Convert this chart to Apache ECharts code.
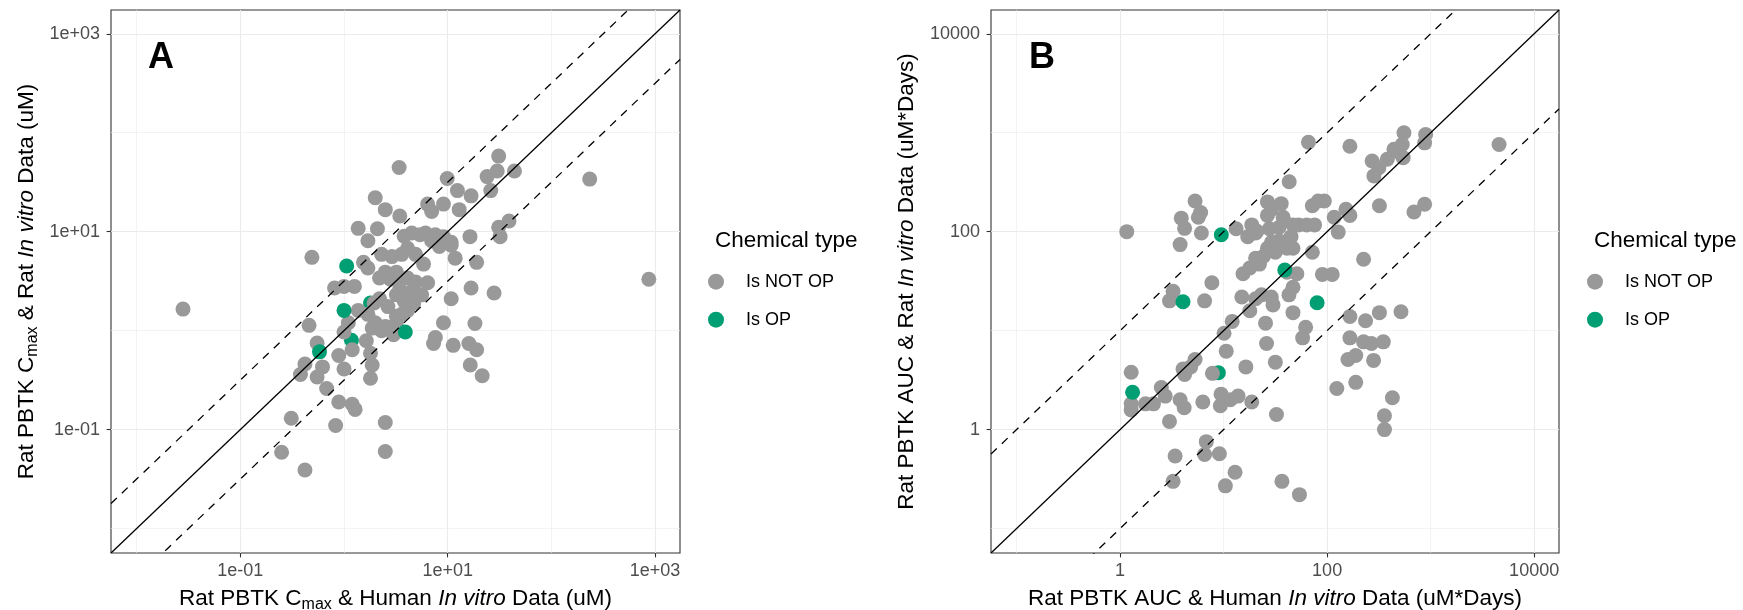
<!DOCTYPE html>
<html>
<head>
<meta charset="utf-8">
<script src="https://cdn.jsdelivr.net/npm/echarts@6/dist/echarts.min.js"></script>
<style>
html, body { margin: 0; padding: 0; background: #fff; }
#chart { width: 1743px; height: 610px; }
</style>
</head>
<body>
<div id="chart"></div>
<script>
// values are [human in vitro, rat in vitro]
// panel A: Cmax (uM)
var cmaxNotOp = [
	[0.028,1.65],[3.4,44.5],[31,58],[24,36],[30,41],[44,41],[9.9,34.5],[12.4,26],[16.8,23],[26,26],[234,34],[870,3.3],
	[2.0,22],[2.5,16.7],[6.4,19],[9.1,19],[7.0,16],[12.9,16.7],[3.45,14.4],[1.37,10.8],[2.1,10.7],[1.7,8.1],[3.8,9.0],
	[4.5,9.7],[5.4,9.3],[7.6,9.3],[9.1,8.9],[10.8,7.8],[4.1,6.8],[4.9,5.9],[8.3,7.1],[16.4,8.9],[31,11.1],[32,8.9],
	[39,12.8],[2.3,5.9],[0.49,5.5],[1.54,4.9],[1.7,4.3],[11.8,5.4],[19,4.9],[2.5,3.9],[3.2,3.9],[2.8,3.3],[2.2,3.4],
	[3.45,3.3],[4.1,3.4],[4.9,3.1],[6.4,3.05],[0.81,2.7],[1.0,2.8],[1.26,2.8],[16.8,2.7],[28,2.4],[3.2,2.3],[4.5,2.5],
	[10.8,2.1],[2.2,2.1],[2.65,1.75],[3.8,2.0],[4.7,1.9],[4.1,1.6],[1.37,1.6],[1.7,1.46],[2.0,1.2],[2.5,1.1],[3.2,1.2],
	[3.6,1.46],[0.46,1.13],[1.1,1.2],[1.87,1.06],[2.3,1.0],[9.1,1.2],[18.3,1.18],[1.0,0.97],[3.0,0.91],[7.6,0.85],
	[7.3,0.74],[11.3,0.71],[16,0.74],[19,0.64],[0.55,0.75],[1.64,0.79],[1.2,0.64],[0.89,0.56],[1.8,0.59],[0.42,0.46],
	[0.62,0.43],[0.38,0.36],[0.55,0.34],[1.0,0.41],[1.87,0.45],[1.8,0.33],[0.68,0.26],[16.5,0.45],[21.5,0.35],
	[0.89,0.19],[1.2,0.18],[1.28,0.16],[0.31,0.13],[0.83,0.11],[2.5,0.118],[0.25,0.059],[2.5,0.06],[0.42,0.039],
	[2.9,5.6],[5.85,4.7],[3.45,2.6],[5.6,2.3],[3.6,5.9],[6.1,9.7],[7.0,8.1],[1.95,1.9],[3.2,1.4],[10.8,7.3]
];
var cmaxOp = [[1.06,4.5],[1.0,1.6],[3.9,0.97],[0.58,0.61]];
var cmaxOpCovered = [[1.8,1.9],[1.18,0.8]];   // OP dots half hidden under grey ones

// panel B: AUC (uM*Days)
var aucNotOp = [
	[1.16,100],[5.3,204],[3.9,137],[6.0,156],[5.7,140],[4.2,108],[6.1,97],[3.8,74],[66,800],[166,730],[43,320],
	[26.5,200],[36,192],[29,168],[26.5,146],[37.6,140],[82,204],[72,183],[94,204],[117,140],[152,168],[166,146],
	[320,183],[128,99],[13.2,107],[18.7,117],[20.4,97],[17.1,89],[27.7,107],[34.4,111],[44.8,89],[53,117],[63.5,117],
	[75.6,117],[29,78],[34.4,81],[26.5,68],[31.6,62],[41,68],[46.8,68],[72,62],[20.4,54],[22.2,47],[17.9,43],
	[15.4,37.6],[24.3,56.5],[225,52.6],[41,39],[51,37.6],[90,37],[112,37],[7.7,30.5],[46.8,27.4],[42.8,23],[23.2,23],
	[15,21.9],[20.4,21],[28.9,21.9],[30,18.2],[17.9,15.9],[3.25,25],[3.0,20],[6.55,20],[46.8,15.2],[12.1,12.4],
	[25.4,11.9],[10.1,9.4],[62,10.8],[58,8.45],[26,7.4],[166,13.9],[235,12.6],[320,15.2],[517,15.5],[166,8.45],
	[225,7.7],[268,7.4],[349,7.7],[31.6,4.8],[16.4,4.3],[10.6,6.2],[159,5.1],[189,5.6],[281,5.0],[5.3,5.1],[4.8,4.3],
	[4.05,4.1],[4.2,3.6],[7.8,3.7],[1.28,3.8],[189,3.0],[124,2.6],[427,2.1],[358,1.38],[358,1.0],[32.4,1.42],
	[2.5,2.66],[2.73,2.18],[2.1,1.82],[3.0,1.21],[4.16,1.66],[3.8,2.0],[6.3,1.9],[1.28,1.82],[1.28,1.58],[1.76,1.82],
	[9.45,2.28],[9.3,1.74],[11.6,2.0],[13.8,2.18],[18.7,1.9],[6.8,0.755],[6.55,0.56],[3.4,0.54],[9.1,0.57],[3.25,0.3],
	[12.9,0.37],[10.4,0.27],[36.6,0.3],[54,0.22],[47,117],[21,101],
	[552,1000],[895,960],[875,790],[532,760],[494,630],[442,680],[381,540],[543,560],[272,518],[316,443],[283,366],
	[4580,760],[690,158],[875,189]
];
var aucOp = [[9.5,93],[39,41],[4.05,19.6],[80,19.1],[1.32,2.38]];
var aucOpCovered = [[8.9,3.75]];

// axis limits and breaks
var limA = [0.00566, 1738];
var limB = [0.0566, 17380];
var breaksA = [0.1, 10, 1000], breakLabelsA = ['1e-01', '1e+01', '1e+03'], minorA = [0.01, 1, 100];
var breaksB = [1, 100, 10000], breakLabelsB = ['1', '100', '10000'], minorB = [0.1, 10, 1000];
var bandA = Math.sqrt(10);   // A: dashed lines half an order of magnitude off
var bandB = 10;              // B: one order of magnitude off

var FONT = '"Liberation Sans", Arial, Helvetica, sans-serif';
var GREY = '#999999', GREEN = '#009E73';

var titleRich = {
	b: { fontSize: 22.5, lineHeight: 28, fontFamily: FONT, color: '#000' },
	i: { fontSize: 22.5, lineHeight: 28, fontFamily: FONT, fontStyle: 'italic', color: '#000' },
	s: { fontSize: 16, lineHeight: 16, fontFamily: FONT, color: '#000', verticalAlign: 'bottom' }
};

function labelFor(breaks, labels) {
	return function (v) {
		for (var i = 0; i < breaks.length; i++) {
			if (Math.abs(Math.log10(v) - Math.log10(breaks[i])) < 1e-6)
				return labels[i];
		}
		return '';
	};
}

function mainAxis(grid, lim, breaks, labels, name, isY) {
	return {
		type: 'log', logBase: 10, gridIndex: grid, min: lim[0], max: lim[1],
		name: name, nameLocation: 'middle', nameGap: isY ? 70 : 32,
		nameTextStyle: { rich: titleRich },
		axisLine: { show: false },
		axisTick: { show: true, customValues: breaks, length: 4.4, lineStyle: { color: '#333', width: 1.1 } },
		axisLabel: { customValues: breaks, formatter: labelFor(breaks, labels), color: '#4d4d4d', fontSize: 18, fontFamily: FONT, margin: isY ? 11 : 9 },
		splitLine: { show: true, lineStyle: { color: '#ebebeb', width: 1.1 } },
		minorTick: { show: false }, minorSplitLine: { show: false }
	};
}

function minorAxis(grid, lim, minor) {
	return {
		type: 'log', logBase: 10, gridIndex: grid, min: lim[0], max: lim[1],
		axisLine: { show: false },
		axisTick: { show: false, customValues: minor },
		axisLabel: { show: false },
		splitLine: { show: true, lineStyle: { color: '#ebebeb', width: 0.6 } }
	};
}

function dots(name, data, color, ax) {
	return {
		type: 'scatter', name: name, data: data, xAxisIndex: ax, yAxisIndex: ax,
		symbol: 'circle', symbolSize: 15, itemStyle: { color: color, opacity: 1 },
		silent: true, z: 3
	};
}

function refLine(lim, k, dashed, ax) {
	return {
		type: 'line', data: [[lim[0], lim[0] * k], [lim[1], lim[1] * k]],
		xAxisIndex: ax, yAxisIndex: ax, symbol: 'none', clip: true, silent: true, z: 4,
		lineStyle: { color: '#000', width: 1.3, type: dashed ? [8, 7] : 'solid' }
	};
}

function legendAt(left) {
	return {
		data: ['Is NOT OP', 'Is OP'], orient: 'vertical', left: left, top: 272.7, padding: 0,
		itemWidth: 50, itemHeight: 16, itemGap: 20, icon: 'circle', selectedMode: false,
		textStyle: { fontSize: 18, lineHeight: 16, color: '#000', fontFamily: FONT }
	};
}

var chart = echarts.init(document.getElementById('chart'), null, { renderer: 'canvas' });

var option = {
	animation: false,
	textStyle: { fontFamily: FONT },
	grid: [
		{ left: 111, top: 10, width: 569, height: 543, show: true, borderColor: '#333', borderWidth: 1.1, backgroundColor: 'transparent', outerBoundsMode: 'none' },
		{ left: 991, top: 10, width: 568, height: 543, show: true, borderColor: '#333', borderWidth: 1.1, backgroundColor: 'transparent', outerBoundsMode: 'none' }
	],
	xAxis: [
		mainAxis(0, limA, breaksA, breakLabelsA, '{b|Rat PBTK C}{s|max}{b| & Human }{i|In vitro}{b| Data (uM)}', false),
		mainAxis(1, limB, breaksB, breakLabelsB, '{b|Rat PBTK AUC & Human }{i|In vitro}{b| Data (uM*Days)}', false),
		minorAxis(0, limA, minorA),
		minorAxis(1, limB, minorB)
	],
	yAxis: [
		mainAxis(0, limA, breaksA, breakLabelsA, '{b|Rat PBTK C}{s|max}{b| & Rat }{i|In vitro}{b| Data (uM)}', true),
		mainAxis(1, limB, breaksB, breakLabelsB, '{b|Rat PBTK AUC & Rat }{i|In vitro}{b| Data (uM*Days)}', true),
		minorAxis(0, limA, minorA),
		minorAxis(1, limB, minorB)
	],
	legend: [legendAt(708), legendAt(1587)],
	graphic: [
		{ type: 'text', x: 161, y: 58, style: { text: 'A', fontSize: 36, fontWeight: 'bold', fontFamily: FONT, fill: '#000', align: 'center', verticalAlign: 'middle' } },
		{ type: 'text', x: 1042, y: 58, style: { text: 'B', fontSize: 36, fontWeight: 'bold', fontFamily: FONT, fill: '#000', align: 'center', verticalAlign: 'middle' } },
		{ type: 'text', x: 715, y: 241, style: { text: 'Chemical type', fontSize: 22.5, fontFamily: FONT, fill: '#000', align: 'left', verticalAlign: 'middle' } },
		{ type: 'text', x: 1594, y: 241, style: { text: 'Chemical type', fontSize: 22.5, fontFamily: FONT, fill: '#000', align: 'left', verticalAlign: 'middle' } }
	],
	series: [
		dots('Is OP', cmaxOpCovered, GREEN, 0),
		dots('Is NOT OP', cmaxNotOp, GREY, 0),
		dots('Is OP', cmaxOp, GREEN, 0),
		refLine(limA, 1, false, 0),
		refLine(limA, bandA, true, 0),
		refLine(limA, 1 / bandA, true, 0),

		dots('Is OP', aucOpCovered, GREEN, 1),
		dots('Is NOT OP', aucNotOp, GREY, 1),
		dots('Is OP', aucOp, GREEN, 1),
		refLine(limB, 1, false, 1),
		refLine(limB, bandB, true, 1),
		refLine(limB, 1 / bandB, true, 1)
	]
};

chart.setOption(option);
</script>
</body>
</html>
